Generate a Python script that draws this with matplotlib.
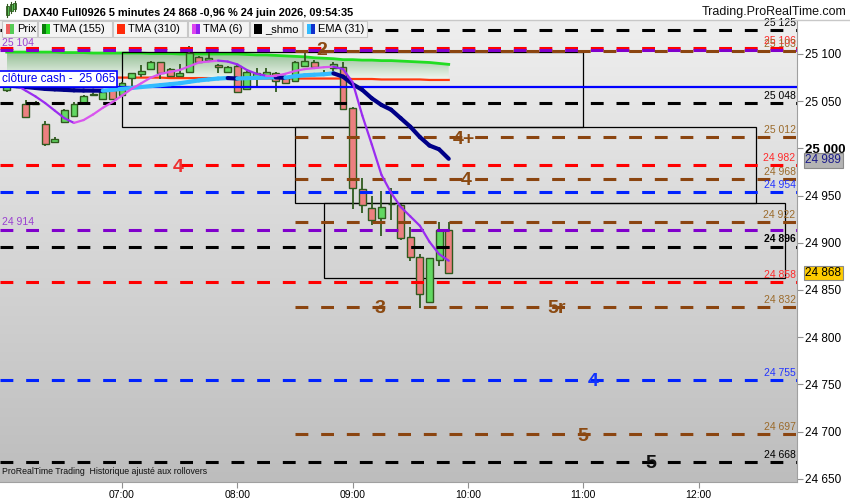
import matplotlib
matplotlib.use("Agg")
import matplotlib.pyplot as plt
from matplotlib.patches import Rectangle
from matplotlib.collections import LineCollection
from matplotlib.colors import LinearSegmentedColormap
import numpy as np

plt.rcParams['font.family'] = ['Liberation Sans', 'DejaVu Sans']

# bougies 5 minutes
times = ["06:00", "06:05", "06:10", "06:15", "06:20", "06:25", "06:30", "06:35", "06:40", "06:45",
         "06:50", "06:55", "07:00", "07:05", "07:10", "07:15", "07:20", "07:25", "07:30", "07:35",
         "07:40", "07:45", "07:50", "07:55", "08:00", "08:05", "08:10", "08:15", "08:20", "08:25",
         "08:30", "08:35", "08:40", "08:45", "08:50", "08:55", "09:00", "09:05", "09:10", "09:15",
         "09:20", "09:25", "09:30", "09:35", "09:40", "09:45", "09:50"]
opens = [25062, 25070, 25047, 25048, 25026, 25007, 25028, 25034, 25048, 25057,
         25052, 25062, 25057, 25075, 25079, 25084, 25091, 25084, 25077, 25081,
         25097, 25094, 25088, 25081, 25087, 25063, 25076, 25076, 25080, 25075,
         25071, 25087, 25092, 25080, 25085, 25086, 25043, 24957, 24937, 24926,
         24941, 24940, 24906, 24885, 24837, 24882, 24914]
highs = [25075, 25073, 25051, 25050, 25029, 25012, 25042, 25049, 25057, 25059,
         25061, 25063, 25070, 25080, 25088, 25093, 25091, 25085, 25089, 25108,
         25098, 25101, 25089, 25087, 25089, 25083, 25085, 25085, 25081, 25076,
         25093, 25102, 25094, 25083, 25091, 25092, 25044, 24969, 24950, 24955,
         24958, 24941, 24917, 24888, 24884, 24922, 24922]
lows = [25060, 25064, 25032, 25046, 25003, 25007, 25027, 25034, 25048, 25056,
        25052, 25051, 25054, 25065, 25076, 25083, 25074, 25077, 25076, 25081,
        25091, 25094, 25080, 25080, 25060, 25062, 25065, 25075, 25060, 25068,
        25070, 25087, 25086, 25077, 25082, 25042, 24936, 24932, 24919, 24907,
        24924, 24903, 24881, 24831, 24836, 24875, 24867]
closes = [25070, 25065, 25033, 25047, 25005, 25010, 25041, 25047, 25056, 25058,
          25060, 25052, 25069, 25080, 25082, 25091, 25080, 25077, 25080, 25101,
          25091, 25096, 25086, 25086, 25060, 25081, 25080, 25081, 25071, 25069,
          25091, 25093, 25086, 25080, 25089, 25042, 24958, 24940, 24924, 24938,
          24941, 24905, 24885, 24846, 24884, 24914, 24868]

# indicateurs
tma155 = [25102, 25102, 25102, 25102, 25102, 25102, 25101.5, 25101.5, 25101.5, 25101,
          25101, 25101, 25101, 25101, 25101, 25100.5, 25100.5, 25100.5, 25100, 25100,
          25100, 25100, 25100, 25100, 25100, 25099.5, 25099, 25099, 25098.5, 25098,
          25097.5, 25097, 25096, 25095.5, 25095, 25094, 25094, 25093.5, 25093.5, 25093,
          25093, 25092.5, 25092, 25091.5, 25091, 25090, 25089]
tma310 = [25075, 25075, 25075, 25075, 25075, 25075, 25075, 25075, 25075, 25075,
          25075, 25075, 25075, 25075, 25075, 25075, 25075, 25074.5, 25074.5, 25074.5,
          25074.5, 25074.5, 25074, 25074, 25074, 25074, 25074, 25074, 25074, 25074,
          25074, 25074, 25074, 25074, 25074, 25074, 25073.5, 25073.5, 25073.5, 25073,
          25073, 25073, 25073, 25073, 25072.5, 25072.5, 25072.5]
tma6 = [25070, 25067, 25061, 25055, 25048, 25040, 25032, 25027, 25030, 25036,
        25043, 25049, 25056, 25063, 25069, 25075, 25079, 25081, 25083, 25087,
        25091, 25092, 25093, 25092, 25089, 25083, 25079, 25077, 25077, 25079,
        25082, 25084, 25085, 25086, 25086.5, 25084, 25070, 25035, 25004, 24972,
        24953, 24938, 24928, 24918, 24901, 24888, 24881]
ema31 = [25067, 25066, 25065, 25064, 25063, 25062.5, 25062, 25061.5, 25061.3, 25061.2,
         25061.1, 25062, 25063, 25064, 25065, 25066, 25067, 25068, 25069, 25070.5,
         25072, 25073, 25074, 25074.5, 25074, 25074.4, 25074.7, 25075, 25075.2, 25074.9,
         25076.5, 25077.5, 25078, 25078.5, 25079.5, 25076, 25068, 25062, 25053, 25046,
         25041, 25032, 25023, 25012, 25003, 24999, 24989]

cash_close = 25065

# niveaux horizontaux
levels = [25125, 25106, 25104, 25103, 25048, 25012, 24982, 24968, 24954, 24922,
          24914, 24896, 24858, 24832, 24755, 24697, 24668]
level_kind = ["black", "red", "purple", "brown", "black", "brown", "red", "brown", "blue", "brown",
              "purple", "black", "red", "brown", "blue", "brown", "black"]
brown_start = "08:30"

# marques de zones
marks = ["2", "4+", "4", "3", "5r", "4", "5", "5", "4"]
mark_time = ["08:44", "09:58", "09:59", "09:14", "10:46", "11:05", "11:00", "11:35", "07:29"]
mark_level = [25106, 25012, 24968, 24832, 24832, 24755, 24697, 24668, 24982]
mark_kind = ["brown", "brown", "brown", "brown", "brown", "blue", "brown", "black", "red"]

# rectangles (début, fin, bas, haut)
box_start = ["07:00", "08:30", "08:45"]
box_end = ["11:00", "12:30", "12:45"]
box_low = [25023, 24942, 24863]
box_high = [25102, 25023, 24942]

x_ticks = ["07:00", "08:00", "09:00", "10:00", "11:00", "12:00"]
y_ticks = [24650, 24700, 24750, 24800, 24850, 24900, 24950, 25000, 25050, 25100]

line_col = {"black": "#000000", "red": "#ff0000", "purple": "#8000cc", "brown": "#8b4510", "blue": "#0022ff"}
lab_col = {"black": "#000000", "red": "#ff2a2a", "purple": "#9a40d0", "brown": "#9b6a2a", "blue": "#2233ff"}
mark_col = {"black": "#111111", "red": "#ee3030", "brown": "#8b4a12", "blue": "#1133ff"}


def hrs(s):
    h, m = s.split(":")
    return int(h) + int(m) / 60


def fmt(v):
    return f"{v:,}".replace(",", " ")


W, H = 850, 500
fig = plt.figure(figsize=(8.5, 5), dpi=100)
fig.patch.set_facecolor("white")
ax = fig.add_axes([0, 18 / H, 797 / W, 462 / H])

x0, x1 = 5.9417, 12.854
y0, y1 = 24646.6, 25136.0

# fond dégradé gris
bg = np.linspace(0, 1, 256).reshape(-1, 1)
cm_bg = LinearSegmentedColormap.from_list("bg", ["#bdbdbd", "#efefef"])
ax.imshow(bg, extent=[x0, x1, y0, y1], origin="lower", cmap=cm_bg, aspect="auto", zorder=0)

t = np.array([hrs(s) for s in times])

# zone entre TMA 155 et TMA 310
poly = ax.fill_between(t, tma310, tma155, color="none", lw=0)
cm_g = LinearSegmentedColormap.from_list("g", ["#f3f7f3", "#94bf94"])
im = ax.imshow(bg, extent=[t[0], t[-1], min(tma310), max(tma155)], origin="lower",
               cmap=cm_g, aspect="auto", zorder=1)
im.set_clip_path(poly.get_paths()[0], transform=ax.transData)
ax.plot(t, tma155, color="#22dd22", lw=2, zorder=2)
ax.plot(t, tma310, color="#ff3a10", lw=1.6, zorder=2)

# rectangles
for a, b, lo, hi in zip(box_start, box_end, box_low, box_high):
    ax.add_patch(Rectangle((hrs(a), lo), hrs(b) - hrs(a), hi - lo, fill=False,
                           ec="black", lw=0.9, zorder=2))

# bougies
w = 0.06
for ti, o, h, l, c in zip(t, opens, highs, lows, closes):
    ax.vlines(ti, l, h, color="#2f5a1e", lw=1.3, zorder=3)
    fc = "#62d862" if c >= o else "#ec8080"
    ax.add_patch(Rectangle((ti - w / 2, min(o, c)), w, max(abs(c - o), 0.3), fc=fc,
                           ec="#2f5a1e", lw=1, zorder=3.1))

# niveaux
for lv, k in zip(levels, level_kind):
    xs = hrs(brown_start) if k == "brown" else x0
    ax.hlines(lv, xs, x1, color=line_col[k], lw=2.2, linestyle=(0, (4.2, 4.2)), zorder=4)
    if k == "purple":
        ax.annotate(fmt(lv), xy=(0, lv), xycoords=ax.get_yaxis_transform(),
                    xytext=(1.5, 1.5), textcoords="offset points", ha="left", va="bottom",
                    fontsize=7.5, color=lab_col[k], zorder=6)
    else:
        ax.annotate(fmt(lv), xy=(1, lv), xycoords=ax.get_yaxis_transform(),
                    xytext=(-1, 1.5), textcoords="offset points", ha="right", va="bottom",
                    fontsize=7.5, color=lab_col[k], zorder=6,
                    fontweight="bold" if lv == 24896 else "normal")

ax.axhline(cash_close, color="#0000ff", lw=1.6, zorder=4)
ax.annotate("clôture cash -  " + fmt(cash_close), xy=(0.002, cash_close),
            xycoords=ax.get_yaxis_transform(), xytext=(0, 1.5), textcoords="offset points",
            ha="left", va="bottom", fontsize=8.5, color="#0000ee", zorder=7,
            bbox=dict(boxstyle="square,pad=0.2", fc="white", ec="#0000ff", lw=1.2))


def seg_line(x, y, up, down, lw, z):
    y = np.asarray(y, float)
    pts = np.column_stack([x, y])
    segs = np.stack([pts[:-1], pts[1:]], axis=1)
    cols = [up if b >= a else down for a, b in zip(y[:-1], y[1:])]
    ax.add_collection(LineCollection(segs, colors=cols, linewidths=lw, zorder=z, capstyle="round"))


seg_line(t, ema31, "#33bbff", "#000088", 3.0, 5)
seg_line(t, tma6, "#d955ee", "#9a2cf0", 1.6, 5.2)

# marques
for m, mt, ml, mk in zip(marks, mark_time, mark_level, mark_kind):
    ax.text(hrs(mt), ml, m, fontsize=14, fontweight="bold", color=mark_col[mk],
            ha="center", va="center_baseline", zorder=6)

ax.set_xlim(x0, x1)
ax.set_ylim(y0, y1)

# axes
ax.yaxis.tick_right()
ax.set_yticks(y_ticks)
ax.set_yticklabels([fmt(v) for v in y_ticks], fontsize=8.5)
for lab, v in zip(ax.get_yticklabels(), y_ticks):
    if v == 25000:
        lab.set_fontweight("bold")
        lab.set_fontsize(9.5)
ax.set_xticks([hrs(s) for s in x_ticks])
ax.set_xticklabels(x_ticks, fontsize=7.5)
ax.tick_params(axis="both", length=4, color="#909090", pad=2)
for s in ["top", "left"]:
    ax.spines[s].set_visible(False)
for s in ["right", "bottom"]:
    ax.spines[s].set_color("#a0a0a0")

# étiquettes de prix sur l'axe
ax.annotate(fmt(ema31[-1]), xy=(1, ema31[-1]), xycoords=ax.get_yaxis_transform(),
            xytext=(6, -1), textcoords="offset points", ha="left", va="center", fontsize=8.5,
            color="#1a1a8a", annotation_clip=False,
            bbox=dict(boxstyle="square,pad=0.12", fc="#b4b4b4", ec="#8a8a8a", lw=0.8))
ax.annotate(fmt(closes[-1]), xy=(1, closes[-1]), xycoords=ax.get_yaxis_transform(),
            xytext=(6, 0), textcoords="offset points", ha="left", va="center", fontsize=8.5,
            color="black", annotation_clip=False,
            bbox=dict(boxstyle="square,pad=0.12", fc="#ffcc00", ec="#8a8a8a", lw=0.8))

ax.text(0.003, 0.012, "ProRealTime Trading  Historique ajusté aux rollovers", transform=ax.transAxes,
        fontsize=6.3, color="#111111", ha="left", va="bottom", zorder=7)

# entête
fig.add_artist(plt.Line2D([0, 1], [1 - 19.5 / H, 1 - 19.5 / H], color="#c8c8c8", lw=1))
for cx, cy0, cy1, col in [(7, 6, 15, "#5ac85a"), (11, 4, 11, "#5ac85a"), (15, 3, 9, "#5ac85a")]:
    fig.add_artist(plt.Line2D([cx / W, cx / W], [1 - (cy1 + 2) / H, 1 - (cy0 - 2) / H], color="#2f5a1e", lw=0.8))
    fig.add_artist(Rectangle((cx / W - 1.5 / W, 1 - cy1 / H), 3 / W, (cy1 - cy0) / H, fc=col, ec="#2f5a1e", lw=0.6))
fig.text(23 / W, 1 - 12.5 / H, "DAX40 Full0926 5 minutes 24 868 -0,96 % 24 juin 2026, 09:54:35",
         fontsize=7.9, fontweight="bold", ha="left", va="center")
fig.text(846 / W, 1 - 12.5 / H, "Trading.ProRealTime.com", fontsize=9, ha="right", va="center",
         color="#111111")

# légende
legend = [("Prix", "#ec6060", "#55cc55", 2, 37), ("TMA (155)", "#0a7a0a", "#22dd22", 38, 112),
          ("TMA (310)", "#ff2a0a", "#ff2a0a", 113, 187), ("TMA (6)", "#dd44ee", "#9020f0", 188, 249),
          ("_shmo", "#000000", "#000000", 250, 302), ("EMA (31)", "#33bbff", "#1030cc", 303, 367)]
for name, c1, c2, lx0, lx1 in legend:
    fig.add_artist(Rectangle((lx0 / W, 1 - 37 / H), (lx1 - lx0) / W, 16 / H, fc="#f4f4f4",
                             ec="#c8c8c8", lw=0.8))
    fig.add_artist(Rectangle(((lx0 + 4) / W, 1 - 34 / H), 4 / W, 10 / H, fc=c1, ec="none"))
    fig.add_artist(Rectangle(((lx0 + 8) / W, 1 - 34 / H), 4 / W, 10 / H, fc=c2, ec="none"))
    fig.text((lx0 + 15) / W, 1 - 29 / H, name, fontsize=8, ha="left", va="center")

fig.savefig("out.png", dpi=100)
